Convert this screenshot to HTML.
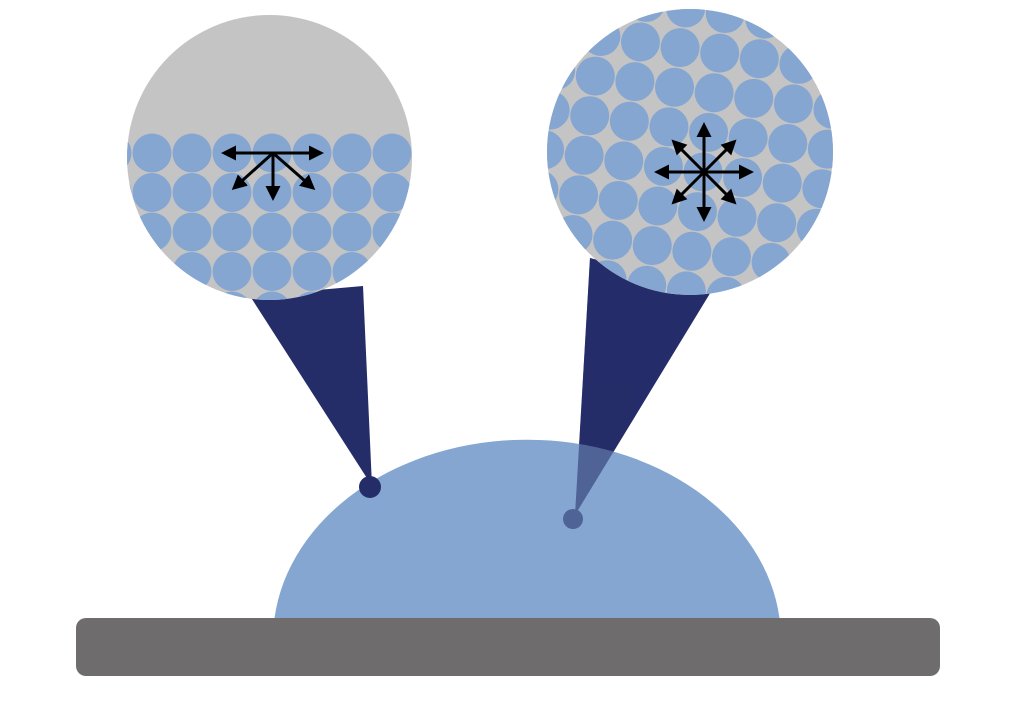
<!DOCTYPE html>
<html><head><meta charset="utf-8"><style>
html,body{margin:0;padding:0;background:#fff;}
svg{display:block;}
</style></head><body>
<svg id="s" width="1031" height="722" viewBox="0 0 1031 722" xmlns="http://www.w3.org/2000/svg">
<defs>
<clipPath id="cl"><circle cx="269.5" cy="157.5" r="142.5"/></clipPath>
<clipPath id="cr"><circle cx="690" cy="152" r="143"/></clipPath>
<marker id="ah" viewBox="0 0 10 10" refX="8" refY="5" markerWidth="5" markerHeight="5" orient="auto"><path d="M0,0 L10,5 L0,10 z" fill="#000"/></marker>
</defs>
<path d="M590,258 L712,290 L575,515 Z" fill="#252d69"/>
<path d="M274.5,618 A254 200 0 0 1 779.5,618 Z" fill="#85a6d1"/>
<g opacity="0.55">
<path d="M590,258 L712,290 L575,515 Z" fill="#252d69"/>
<circle cx="573" cy="519" r="10" fill="#252d69"/>
</g>
<path d="M250,296 L363,286 L372,486 Z" fill="#252d69"/>
<circle cx="370" cy="487" r="11" fill="#252d69"/>
<rect x="76" y="618" width="864" height="58" rx="10" fill="#6e6c6d"/>
<g clip-path="url(#cl)">
<rect x="120" y="10" width="300" height="300" fill="#c4c4c4"/>
<g id="lb"></g>
</g>
<g clip-path="url(#cr)">
<rect x="540" y="5" width="300" height="300" fill="#c4c4c4"/>
<g id="rb"></g>
</g>
<g id="la" stroke="#000" stroke-width="3" marker-end="url(#ah)">
<line x1="273" y1="153" x2="224" y2="153"/>
<line x1="273" y1="153" x2="321" y2="153"/>
<line x1="273" y1="153" x2="273" y2="198"/>
<line x1="273" y1="153" x2="234" y2="188"/>
<line x1="273" y1="153" x2="313" y2="188"/>
</g>
<g id="ra"></g>
</svg>
<script>
var NS='http://www.w3.org/2000/svg';
var lb=document.getElementById('lb');
for(var r=0;r<5;r++){for(var c=-1;c<8;c++){
var e=document.createElementNS(NS,'circle');


e.setAttribute('cx',152+40*c);e.setAttribute('cy',153+39.5*r);e.setAttribute('r',19.5);e.setAttribute('fill','#86a6d2');lb.appendChild(e);}}
var rb=document.getElementById('rb');
var a=8*Math.PI/180,ca=Math.cos(a),sa=Math.sin(a);
for(var i=-5;i<=5;i++){for(var j=-5;j<=5;j++){
var x=703+40*i*ca-40*j*sa, y=172+40*i*sa+40*j*ca;
var e=document.createElementNS(NS,'circle');


e.setAttribute('cx',x);e.setAttribute('cy',y);e.setAttribute('r',19.5);e.setAttribute('fill','#86a6d2');rb.appendChild(e);}}
var ra=document.getElementById('ra');
for(var k=0;k<8;k++){var t=k*Math.PI/4,L=(k%2?43:47);
var l=document.createElementNS(NS,'line');


l.setAttribute('x1',704);l.setAttribute('y1',172);l.setAttribute('x2',704+L*Math.cos(t));l.setAttribute('y2',172+L*Math.sin(t));
l.setAttribute('stroke','#000');l.setAttribute('stroke-width','3');l.setAttribute('marker-end','url(#ah)');ra.appendChild(l);}
</script>
</body></html>
